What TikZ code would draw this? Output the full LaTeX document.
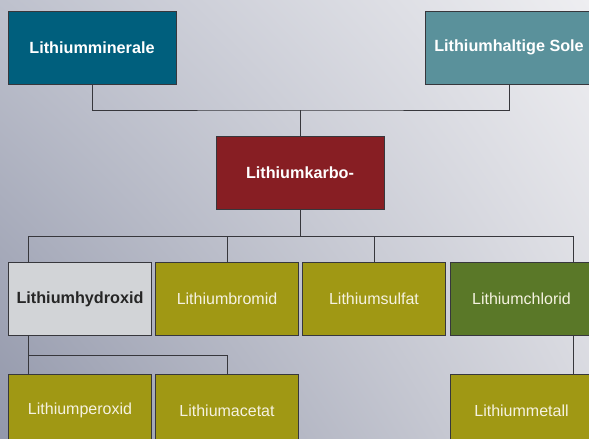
\documentclass[tikz,border=0pt]{standalone}
\usepackage{fontspec}
\setmainfont{Liberation Sans}
\usetikzlibrary{calc,shadings}
\definecolor{bgtl}{RGB}{190,193,205}
\definecolor{bgtr}{RGB}{238,238,241}
\definecolor{bgbl}{RGB}{146,151,170}
\definecolor{bgbr}{RGB}{214,215,222}
\definecolor{petrol}{RGB}{0,95,125}
\definecolor{seateal}{RGB}{90,145,155}
\definecolor{wine}{RGB}{135,30,35}
\definecolor{mustard}{RGB}{160,152,20}
\definecolor{moss}{RGB}{90,120,40}
\definecolor{pale}{RGB}{210,212,215}
\definecolor{cream}{RGB}{245,242,225}
\definecolor{wire}{RGB}{55,55,60}
\begin{document}
\begin{tikzpicture}[x=1pt,y=-1pt,
  box/.style={draw=wire,line width=1pt,minimum height=73pt,inner sep=0pt,
    font=\fontsize{16}{19}\selectfont},
  bigbox/.style={box,minimum width=168pt,text=white,font=\fontsize{16.2}{19}\selectfont\bfseries},
  smallbox/.style={box,minimum width=143pt,fill=mustard,text=cream},
  link/.style={draw=wire,line width=1pt}]
\useasboundingbox (0,0) rectangle (589,439);
\clip (0,0) rectangle (589,439);
\shade[upper left=bgtl,upper right=bgtr,lower left=bgbl,lower right=bgbr] (0,0) rectangle (589,439);
\node[bigbox,fill=petrol] (min) at (92,47.5) {Lithiumminerale};
\node[bigbox,fill=seateal] (sole) at (509,47.5) {Lithiumhaltige Sole};
\node[bigbox,fill=wine] (karbo) at (300,173) {Lithiumkarbo-};
\node[smallbox,fill=pale,text=black!85,font=\fontsize{16.2}{19}\selectfont\bfseries] (hyd) at (80,299) {Lithiumhydroxid};
\node[smallbox] (bro) at (227,299) {Lithiumbromid};
\node[smallbox] (sul) at (374,299) {Lithiumsulfat};
\node[smallbox,fill=moss] (chl) at (521.5,299) {Lithiumchlorid};
\node[smallbox] (per) at (80,410.5) {Lithiumperoxid};
\node[smallbox] (ace) at (227,410.5) {Lithiumacetat};
\node[smallbox] (met) at (521.5,410.5) {Lithiummetall};
\coordinate (topbus) at (300,110);
\coordinate (busl) at (28,236);
\coordinate (busr) at (573,236);
\coordinate (lowbus) at (28,355);
\draw[link] (min.south) |- (topbus) -| (sole.south);
\draw[link] (topbus) -- (karbo.north);
\draw[link] (karbo.south) -- (karbo.south |- busl);
\draw[link] (busl |- hyd.north) -- (busl) -- (busr) -- (busr |- chl.north);
\draw[link] (bro.north) -- (bro.north |- busl);
\draw[link] (sul.north) -- (sul.north |- busl);
\draw[link] (busl |- hyd.south) -- (busl |- per.north);
\draw[link] (lowbus) -| (ace.north);
\draw[link] (busr |- chl.south) -- (busr |- met.north);
\end{tikzpicture}
\end{document}
